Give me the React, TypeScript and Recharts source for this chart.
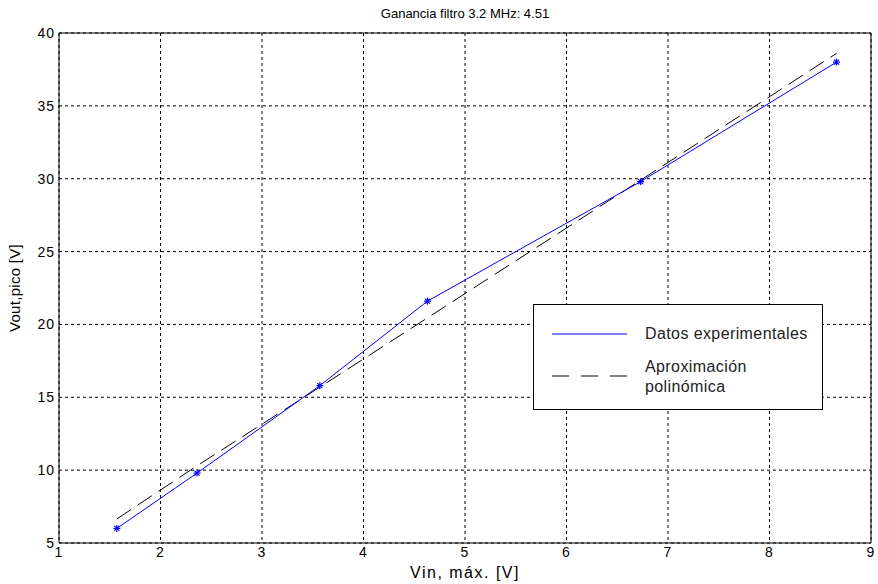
import { CartesianGrid, Line, LineChart, XAxis, YAxis, Legend, ReferenceLine } from 'recharts'

// values
const vinValues = [1.57, 2.36, 3.57, 4.63, 6.73, 8.66]
const voutValues = [6.0, 9.8, 15.8, 21.6, 29.8, 38.0]
const fitValues = [6.65, 10.3, 15.7, 20.45, 29.9, 38.6]
const xTicks = [1, 2, 3, 4, 5, 6, 7, 8, 9]
const yTicks = [5, 10, 15, 20, 25, 30, 35, 40]

const title = 'Ganancia filtro 3.2 MHz: 4.51'
const xLabel = 'Vin, máx. [V]'
const yLabel = 'Vout,pico [V]'
const seriesNames = ['Datos experimentales', 'Aproximación polinómica']

const data = vinValues.map((v, i) => ({ vin: v, vout: voutValues[i], fit: fitValues[i] }))

const font = '"Liberation Sans", Arial, sans-serif'
const tickStyle = { fill: '#000', fontSize: 14, fontFamily: font, style: { letterSpacing: '1px' } }

function Star(props: any) {
  const { cx, cy } = props
  if (cx == null || cy == null) return null
  const r = 3.5
  const d = 2.5
  return (
    <g stroke="#0000ff" strokeWidth={1.2}>
      <line x1={cx - r} y1={cy} x2={cx + r} y2={cy} />
      <line x1={cx} y1={cy - r} x2={cx} y2={cy + r} />
      <line x1={cx - d} y1={cy - d} x2={cx + d} y2={cy + d} />
      <line x1={cx - d} y1={cy + d} x2={cx + d} y2={cy - d} />
    </g>
  )
}

function LegendBox() {
  return (
    <div
      style={{
        position: 'relative',
        width: 290,
        height: 106,
        boxSizing: 'border-box',
        border: '1px solid #000',
        background: '#fff',
        fontFamily: font,
        fontSize: 16,
        letterSpacing: '0.4px',
        color: '#222',
      }}
    >
      <svg width={290} height={106} style={{ position: 'absolute', left: 0, top: 0 }}>
        <line x1={18} y1={29} x2={93} y2={29} stroke="#0000ff" strokeWidth={1} />
        <line x1={18} y1={71} x2={93} y2={71} stroke="#000" strokeWidth={1} strokeDasharray="17 12" />
      </svg>
      <div style={{ position: 'absolute', left: 111, top: 20, lineHeight: '18px' }}>{seriesNames[0]}</div>
      <div style={{ position: 'absolute', left: 111, top: 52, lineHeight: '20px', width: 150 }}>
        Aproximación
        <br />
        polinómica
      </div>
    </div>
  )
}

function App() {
  return (
    <div style={{ position: 'absolute', left: 0, top: 0, width: 878, height: 584, background: '#fff' }}>
      <div
        style={{
          position: 'absolute',
          left: 0,
          width: 930,
          top: 6,
          textAlign: 'center',
          fontFamily: font,
          fontSize: 13,
          color: '#000',
        }}
      >
        {title}
      </div>
      <LineChart
        width={878}
        height={584}
        data={data}
        margin={{ top: 33, right: 7, bottom: 1, left: 0 }}
      >
        <CartesianGrid stroke="#000" strokeDasharray="3 3" strokeWidth={1} />
        <XAxis
          type="number"
          dataKey="vin"
          domain={[1, 9]}
          ticks={xTicks}
          allowDataOverflow
          height={40}
          tickSize={0}
          tickMargin={4}
          stroke="#000"
          tick={tickStyle}
          label={{
            value: xLabel,
            position: 'insideBottom',
            offset: 5,
            fill: '#000',
            fontSize: 16,
            fontFamily: font,
            style: { letterSpacing: '1.5px' },
          }}
        />
        <YAxis
          type="number"
          domain={[5, 40]}
          ticks={yTicks}
          allowDataOverflow
          width={59}
          tickSize={0}
          tickMargin={4}
          stroke="#000"
          tick={tickStyle}
          label={{
            value: yLabel,
            angle: -90,
            position: 'insideLeft',
            offset: 15,
            style: { textAnchor: 'middle', letterSpacing: '0.3px' },
            fill: '#000',
            fontSize: 15,
            fontFamily: font,
          }}
        />
        <ReferenceLine y={40} stroke="#000" strokeWidth={1} />
        <ReferenceLine x={9} stroke="#000" strokeWidth={1} />
        <Line
          type="linear"
          dataKey="fit"
          name={seriesNames[1]}
          stroke="#000"
          strokeWidth={1}
          strokeDasharray="17 8"
          dot={false}
          isAnimationActive={false}
        />
        <Line
          type="linear"
          dataKey="vout"
          name={seriesNames[0]}
          stroke="#0000ff"
          strokeWidth={1}
          dot={(p: any) => <Star key={p.index} {...p} />}
          isAnimationActive={false}
        />
        <Legend
          layout="horizontal"
          verticalAlign="middle"
          align="center"
          content={() => <LegendBox />}
          wrapperStyle={{ position: 'absolute', left: 533, top: 304, width: 290, height: 106 }}
        />
      </LineChart>
    </div>
  )
}

export default App
